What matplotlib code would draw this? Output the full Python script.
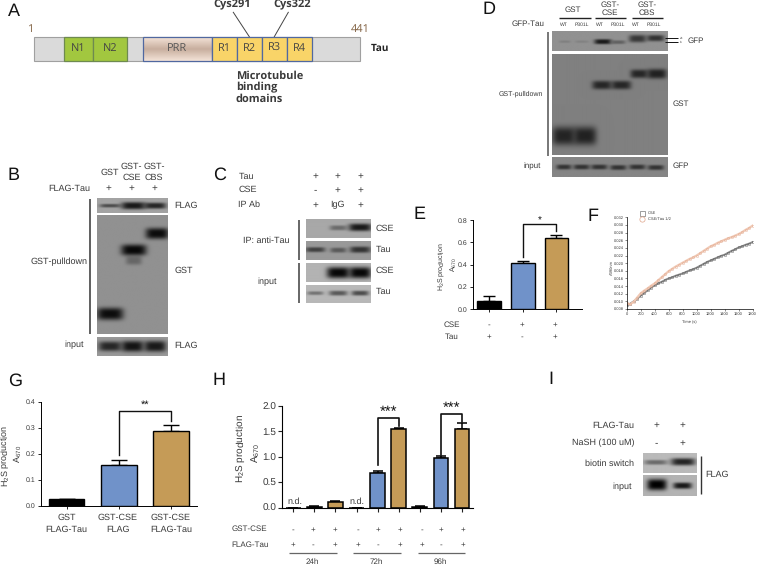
import numpy as np
import matplotlib
matplotlib.use("Agg")
import matplotlib.pyplot as plt
from matplotlib.colors import LinearSegmentedColormap
from matplotlib.patches import Rectangle

plt.rcParams['font.family'] = ['Liberation Sans', 'DejaVu Sans']
plt.rcParams['mathtext.fontset'] = 'custom'
plt.rcParams['mathtext.rm'] = 'Liberation Sans'
plt.rcParams['mathtext.it'] = 'Liberation Sans'
plt.rcParams['mathtext.default'] = 'regular'
plt.rcParams['text.hinting'] = 'no_hinting'
plt.rcParams['text.hinting_factor'] = 1

W, H = 757, 566
BLUE = '#7092C9'
TAN = '#C59B57'
INK = '#3A3A3A'

# ---- data -------------------------------------------------------------
e_values = [0.07, 0.415, 0.635]
e_errors = [0.045, 0.012, 0.03]
e_colors = ['black', BLUE, TAN]
e_cse = ['-', '+', '+']
e_tau = ['+', '-', '+']

f_time = list(range(0, 1801, 50))
f_cse = [0.0090, 0.0094, 0.0100, 0.0107, 0.0115, 0.0122, 0.0129, 0.0136, 0.0142, 0.0147, 0.0151, 0.0156,
         0.0160, 0.0163, 0.0167, 0.0170, 0.0173, 0.0177, 0.0181, 0.0184, 0.0188, 0.0193, 0.0198, 0.0203,
         0.0207, 0.0211, 0.0215, 0.0219, 0.0222, 0.0227, 0.0232, 0.0236, 0.0241, 0.0244, 0.0248, 0.0251,
         0.0255]
f_tau = [0.0095, 0.0092, 0.0099, 0.0110, 0.0121, 0.0128, 0.0134, 0.0141, 0.0147, 0.0155, 0.0163, 0.0171,
         0.0179, 0.0185, 0.0191, 0.0196, 0.0201, 0.0206, 0.0211, 0.0215, 0.0220, 0.0226, 0.0232, 0.0238,
         0.0244, 0.0248, 0.0253, 0.0257, 0.0261, 0.0265, 0.0268, 0.0272, 0.0276, 0.0281, 0.0287, 0.0292,
         0.0298]

g_values = [0.024, 0.157, 0.289]
g_errors = [0.002, 0.018, 0.021]
g_colors = ['black', BLUE, TAN]
g_line1 = ['GST', 'GST-CSE', 'GST-CSE']
g_line2 = ['FLAG-Tau', 'FLAG', 'FLAG-Tau']

h_values = [0.0, 0.02, 0.12, 0.0, 0.68, 1.55, 0.02, 0.97, 1.54]
h_errors = [0.0, 0.01, 0.015, 0.0, 0.045, 0.025, 0.015, 0.045, 0.12]
h_colors = ['black', 'black', TAN, 'black', BLUE, TAN, 'black', BLUE, TAN]
h_cse = ['-', '+', '+', '-', '+', '+', '-', '+', '+']
h_tau = ['+', '-', '+', '+', '-', '+', '+', '-', '+']
h_groups = ['24h', '72h', '96h']

domains = ['N1', 'N2', 'PRR', 'R1', 'R2', 'R3', 'R4']
domain_edges = [(64, 93.3), (93.3, 126.7), (143.3, 211.7), (211.7, 237.3), (237.3, 262), (262, 286.7), (286.7, 311.7)]

# ---- figure -----------------------------------------------------------
fig = plt.figure(figsize=(W / 100, H / 100), dpi=100, facecolor='white')
ov = fig.add_axes([0, 0, 1, 1], zorder=1)
ov.set_xlim(0, W); ov.set_ylim(H, 0); ov.axis('off')


def t(x, y, s, size=6.3, ha='center', va='center', color=INK, **kw):
    ov.text(x, y, s, fontsize=size, ha=ha, va=va, color=color, **kw)


def vline(x, y0, y1, color='#444444', lw=1.2):
    ov.plot([x, x], [y0, y1], color=color, lw=lw, solid_capstyle='butt')


def hline(x0, x1, y, color='#444444', lw=1.2):
    ov.plot([x0, x1], [y, y], color=color, lw=lw, solid_capstyle='butt')


def blot(x0, y0, x1, y1, bg, bands):
    nx, ny = int((x1 - x0) * 3), int((y1 - y0) * 3)
    xs = np.linspace(x0, x1, nx)[None, :]
    ys = np.linspace(y0, y1, ny)[:, None]
    img = np.full((ny, nx), float(bg))
    for cx, cy, w, h, dark in bands:
        a = np.exp(-np.abs((xs - cx) / (w * 0.58)) ** 4 - np.abs((ys - cy) / (h * 0.62)) ** 3)
        img = img * (1 - a) + dark * a
    ov.imshow(img, extent=(x0, x1, y1, y0), cmap='gray', vmin=0, vmax=1,
              aspect='auto', interpolation='bilinear', zorder=1)


def axpx(left, right, top, bottom, zorder=2):
    a = fig.add_axes([left / W, 1 - bottom / H, (right - left) / W, (bottom - top) / H], zorder=zorder)
    a.patch.set_alpha(0)
    for s in ('top', 'right'):
        a.spines[s].set_visible(False)
    return a


def bracket(a, x0, x1, y0, ytop, y1, stars, ystar, size, lw=1.2):
    a.plot([x0, x0, x1, x1], [y0, ytop, ytop, y1], color='#111111', lw=lw, clip_on=False,
           solid_joinstyle='round')
    a.text((x0 + x1) / 2, ystar, stars, ha='center', va='center', fontsize=size, color='#111111', clip_on=False)


def bars(a, values, errors, colors, width, lw, cap):
    xs = np.arange(len(values))
    a.bar(xs, values, width=width, color=colors, edgecolor='black', linewidth=lw, zorder=2)
    a.errorbar(xs, values, yerr=[np.zeros(len(values)), errors], fmt='none', ecolor='black',
               elinewidth=lw, capsize=cap, capthick=lw, zorder=1)
    a.set_xticks(xs)
    a.set_xticklabels([])


# panel letters
for letter, x, y in [('A', 13.5, 11), ('B', 13.5, 175), ('C', 220, 175), ('D', 489, 9), ('E', 420, 214),
                     ('F', 593, 216.5), ('G', 15, 381), ('H', 219, 380), ('I', 551, 379)]:
    t(x, y, letter, size=13.3, color='#111111')

# ---- A ----------------------------------------------------------------
ov.add_patch(Rectangle((34.3, 36.7), 325.7, 24, fc='#DADADA', ec='#A0A0A0', lw=0.8, zorder=1))
fills = {'N': '#A2C73F', 'R': '#F9D468'}
prr_cmap = LinearSegmentedColormap.from_list('p', ['#C9B0A0', '#F3E2D6'])
for name, (a0, a1) in zip(domains, domain_edges):
    if name == 'PRR':
        ov.imshow(np.abs(np.linspace(-1, 1, 30))[:, None], extent=(a0, a1, 60.7, 36.7), aspect='auto',
                  cmap=prr_cmap, zorder=2)
        ov.add_patch(Rectangle((a0, 36.7), a1 - a0, 24, fc='none', ec='#5068A0', lw=0.9, zorder=3))
    else:
        ec = '#6E8A50' if name[0] == 'N' else '#5068A0'
        ov.add_patch(Rectangle((a0, 36.7), a1 - a0, 24, fc=fills[name[0]], ec=ec, lw=0.9, zorder=3))
    ov.text((a0 + a1) / 2, 48.5, name, fontsize=7.8, ha='center', va='center',
            color='#555555' if name == 'PRR' else '#444444', family='Open Sans', zorder=4)
t(31, 29, '1', size=7.8, color='#806040', family='Open Sans')
t(360, 29, '441', size=7.8, color='#806040', family='Open Sans')
t(380, 48.5, 'Tau', size=7.5, color='#222222', weight='bold', family='Open Sans')
t(231.7, 4.5, 'Cys291', size=7.7, weight='bold', family='Open Sans')
t(291.7, 4.5, 'Cys322', size=7.7, weight='bold', family='Open Sans')
ov.plot([233.3, 249.3], [12.3, 36.7], color='#444444', lw=0.7)
ov.plot([288.3, 274.3], [12.3, 36.7], color='#444444', lw=0.7)
for y, s in [(76, 'Microtubule'), (87.3, 'binding'), (99, 'domains')]:
    t(235.7, y, s, size=7.6, ha='left', weight='bold', family='Open Sans')

# ---- B ----------------------------------------------------------------
blot(97, 198.3, 167.7, 213.3, 0.64, [(110, 206, 18, 3, 0.3), (133.3, 206, 21, 6, 0.1), (155, 206, 19, 5, 0.15)])
blot(97, 215.7, 167.7, 334.3, 0.57, [(110, 314.3, 23, 10, 0.05), (133.7, 261, 14, 7, 0.4),
                                     (133.7, 250.5, 22, 9, 0.03), (157, 234, 20, 9, 0.05)])
blot(97, 336.7, 167.7, 355.7, 0.6, [(110, 346, 20, 8, 0.15), (132.5, 346, 19, 9, 0.08), (155, 346, 19, 9, 0.1)])
vline(90, 199, 334.3)
t(109.3, 172.7, 'GST')
for x, s in [(131.7, 'CSE'), (154, 'CBS')]:
    t(x, 166.7, 'GST-')
    t(x, 177.3, s)
t(90, 189, 'FLAG-Tau', ha='right')
for x in (108.3, 131.3, 154):
    t(x, 188.5, '+', size=7)
t(174.7, 205.7, 'FLAG', ha='left')
t(174.7, 270.7, 'GST', ha='left')
t(174, 346, 'FLAG', ha='left')
t(59.3, 261.7, 'GST-pulldown')
t(74, 345, 'input')

# ---- C ----------------------------------------------------------------
blot(305.7, 220, 370.7, 238.3, 0.66, [(338, 228.5, 15, 4, 0.42), (360, 228, 20, 6, 0.1)])
blot(305.7, 241.7, 370.7, 260, 0.6, [(315, 250, 17, 4, 0.25), (338, 250.5, 14, 4, 0.35), (360, 250, 18, 5, 0.2)])
blot(305.7, 263.3, 370.7, 281.7, 0.7, [(338, 272.7, 20, 9, 0.03), (360, 272.7, 19, 9, 0.03)])
blot(305.7, 285, 370.7, 302.7, 0.72, [(315, 293, 14, 3, 0.45), (338, 293, 16, 4, 0.35), (360, 293, 15, 4, 0.3)])
vline(299, 220, 259.5, '#666666', 1.4)
vline(299, 263.3, 303.3, '#666666', 1.4)
for y, s in [(176.7, 'Tau'), (190, 'CSE'), (205, 'IP Ab')]:
    t(238.3, y, s, ha='left')
for x, a1, a2, a3 in [(315, '+', '-', '+'), (337.3, '+', '+', 'IgG'), (360, '+', '+', '+')]:
    t(x, 176.5, a1, size=7); t(x, 190, a2, size=7); t(x, 205, a3, size=6.3 if a3 == 'IgG' else 7)
t(266.7, 241, 'IP: anti-Tau')
t(266.7, 281.7, 'input')
for y, s in [(228.3, 'CSE'), (250, 'Tau'), (271, 'CSE'), (291.7, 'Tau')]:
    t(376, y, s, ha='left')

# ---- D ----------------------------------------------------------------
blot(552.3, 31.7, 667.7, 51, 0.57, [(565, 42, 10, 2, 0.5), (582, 42, 12, 2, 0.51), (603, 42, 15, 4, 0.1),
                                    (618, 42.5, 13, 3, 0.38), (637.5, 39, 15, 6, 0.22), (655.5, 38.5, 15, 5, 0.2)])
blot(552.3, 54, 667.7, 155, 0.5, [(564, 136, 20, 15, 0.14), (585, 136, 20, 15, 0.13), (602, 85, 17, 7, 0.15),
                                  (621.3, 85, 17, 7, 0.15), (639, 73.7, 15, 7, 0.15), (656.7, 73.7, 17, 8, 0.13)])
blot(552.3, 157.3, 667.7, 176.7, 0.52, [(564, 167, 13, 4, 0.2), (581.7, 167, 14, 4, 0.2), (599.3, 167, 14, 4, 0.2),
                                        (618.3, 167.5, 14, 4, 0.2), (637.3, 167, 14, 4, 0.2), (655.7, 167.5, 14, 4, 0.2)])
vline(548, 32, 155.7, '#777777', 1.4)
t(573.3, 10, 'GST', size=5.5)
for x, s in [(610, 'CSE'), (647.3, 'CBS')]:
    t(x, 5, 'GST-', size=5.5)
    t(x, 13.3, s, size=5.5)
for x0, x1 in [(559.3, 590.7), (594.7, 625.7), (631.7, 662.7)]:
    hline(x0, x1, 17.7, '#222222', 1.0)
t(528.3, 24, 'GFP-Tau', size=5.5)
for x, s in zip([564, 581.7, 600, 617.7, 636, 654], ['WT', 'P301L'] * 3):
    t(x, 24.7, s, size=3.8)
hline(665, 678.3, 38.3, '#111111', 0.7)
hline(665, 678.3, 42, '#111111', 0.7)
t(681, 38.3, 'ub', size=2.5)
t(681, 42, 'b', size=2.5)
t(687.7, 41, 'GFP', size=6, ha='left')
t(520.7, 94, 'GST-pulldown', size=5.3)
t(672.7, 104, 'GST', size=6, ha='left')
t(532.3, 166.3, 'input', size=5.5)
t(672.7, 166, 'GFP', size=6, ha='left')

# ---- E ----------------------------------------------------------------
axE = axpx(472.7, 581.7, 220, 309)
axE.set_xlim(-0.484, 2.75); axE.set_ylim(0, 0.8)
bars(axE, e_values, e_errors, e_colors, 0.7, 1.0, 4.5)
axE.set_yticks(np.arange(0, 0.81, 0.2))
axE.set_yticklabels(['0.0', '0.2', '0.4', '0.6', '0.8'])
axE.tick_params(axis='both', labelsize=5.4, length=2.5, width=0.7, pad=1.5, color='#222222', labelcolor=INK)
for s in ('left', 'bottom'):
    axE.spines[s].set_linewidth(0.7)
bracket(axE, 1, 2, 0.47, 0.76, 0.70, '*', 0.795, 7, 1.0)
t(442, 267, 'H$_2$S production', size=5.4, rotation=90)
t(453.5, 265, 'A$_{670}$', size=5.4, rotation=90)
t(452, 325, 'CSE', size=5.8)
t(452, 336.7, 'Tau', size=5.8)
for x, a1, a2 in zip([489, 522.3, 555.3], e_cse, e_tau):
    t(x, 325, a1, size=5.8); t(x, 336.7, a2, size=5.8)

# ---- F ----------------------------------------------------------------
axF = axpx(626.7, 752.5, 217.3, 309)
axF.set_xlim(0, 1800); axF.set_ylim(0.008, 0.032)
axF.plot(f_time, f_cse, ls='-', lw=1.4, color='#8A8A8A', marker='s', ms=1.4, mfc='none', mew=0.3, mec='#555555')
axF.plot(f_time, f_tau, ls='-', lw=1.6, color='#F0C9B5', marker='o', ms=1.6, mfc='none', mew=0.3, mec='#E0A58A')
axF.set_xticks(range(0, 1801, 200))
axF.set_yticks(np.arange(0.008, 0.0321, 0.002))
axF.set_yticklabels(['%.3f' % v for v in np.arange(0.008, 0.0321, 0.002)])
axF.tick_params(axis='both', labelsize=2.8, length=1.3, width=0.4, pad=0.8, color='#333333', labelcolor='#333333')
for s in ('left', 'bottom'):
    axF.spines[s].set_linewidth(0.5)
axF.set_xlim(0, 1800)
ov.plot([641.7], [212.7], marker='s', ms=3.6, mfc='none', mec='#777777', mew=0.5)
ov.plot([641.7], [219.3], marker='o', ms=3.8, mfc='none', mec='#E0A58A', mew=0.5)
t(648, 212.7, 'CSE', size=3, ha='left')
t(648, 219.3, 'CSE/Tau 1/2', size=3, ha='left')
t(689, 321.7, 'Time (s)', size=3)
t(611.5, 268, 'A390nm', size=3, rotation=90)

# ---- G ----------------------------------------------------------------
axG = axpx(40.7, 197.3, 401.7, 505.7)
axG.set_xlim(-0.498, 2.5); axG.set_ylim(0, 0.4)
bars(axG, g_values, g_errors, g_colors, 0.68, 1.0, 5.5)
axG.set_yticks([0, 0.1, 0.2, 0.3, 0.4])
axG.set_yticklabels(['0.0', '0.1', '0.2', '0.3', '0.4'])
axG.tick_params(axis='both', labelsize=5.4, length=2.5, width=0.7, pad=1.5, color='#222222', labelcolor=INK)
for s in ('left', 'bottom'):
    axG.spines[s].set_linewidth(0.7)
bracket(axG, 1, 2, 0.195, 0.364, 0.327, '**', 0.387, 8, 1.0)
t(5.5, 456, 'H$_2$S production', size=6.3, rotation=90)
t(17.5, 454, 'A$_{670}$', size=6.3, rotation=90)
for x, a1, a2 in zip([66.7, 118, 171], g_line1, g_line2):
    t(x, 517.3, a1, size=6.3); t(x, 529.5, a2, size=6.3)

# ---- H ----------------------------------------------------------------
axH = axpx(282.3, 473, 406, 507.7)
axH.set_xlim(-0.52, 8.52); axH.set_ylim(0, 2.0)
bars(axH, h_values, h_errors, h_colors, 0.7, 1.1, 3.5)
axH.set_yticks([0, 0.5, 1.0, 1.5, 2.0])
axH.set_yticklabels(['0.0', '0.5', '1.0', '1.5', '2.0'])
axH.tick_params(axis='both', labelsize=7, length=3, width=0.8, pad=1.5, color='#222222', labelcolor=INK)
for s in ('left', 'bottom'):
    axH.spines[s].set_linewidth(0.8)
bracket(axH, 4, 5, 0.84, 1.76, 1.61, '***', 1.88, 11, 1.2)
bracket(axH, 7, 8, 1.04, 1.85, 1.69, '***', 1.96, 11, 1.2)
t(241, 449, 'H$_2$S production', size=7.4, rotation=90)
t(256, 453, 'A$_{670}$', size=7.4, rotation=90)
t(295, 501.7, 'n.d.', size=6.8)
t(357.3, 501.7, 'n.d.', size=6.8)
t(231.7, 529.3, 'GST-CSE', size=6, ha='left')
t(231.7, 544.7, 'FLAG-Tau', size=6, ha='left')
lanes = [292.7, 313.3, 335, 357.7, 378.3, 400, 421.7, 441, 462.7]
for x, a1, a2 in zip(lanes, h_cse, h_tau):
    t(x, 529.3, a1, size=5.8); t(x, 544.7, a2, size=5.8)
for (x0, x1, xc), s in zip([(289.3, 337.3, 312.7), (353.3, 400.7, 376.7), (417.7, 465, 440)], h_groups):
    hline(x0, x1, 552.7, '#666666', 0.9)
    t(xc, 562, s, size=5.6)

# ---- I ----------------------------------------------------------------
blot(643.3, 452.7, 696.7, 472.7, 0.73, [(656, 462, 20, 4, 0.42), (683, 461.5, 21, 6, 0.14)])
blot(643.3, 475.7, 696.7, 496, 0.7, [(657, 485, 17, 9, 0.0), (682.5, 486, 16, 5, 0.1)])
vline(701, 456, 494.3, '#333333', 1.0)
t(634, 425.7, 'FLAG-Tau', ha='right')
t(634, 443.3, 'NaSH (100 uM)', ha='right')
for x, a1, a2 in [(656, '+', '-'), (682.7, '+', '+')]:
    t(x, 425.2, a1, size=7.5); t(x, 443, a2, size=7.5)
t(634, 464, 'biotin switch', ha='right')
t(632, 486.7, 'input', ha='right')
t(705.3, 475, 'FLAG', size=6.8, ha='left')

ov.set_xlim(0, W); ov.set_ylim(H, 0)
fig.savefig('out.png', dpi=100, facecolor='white')
